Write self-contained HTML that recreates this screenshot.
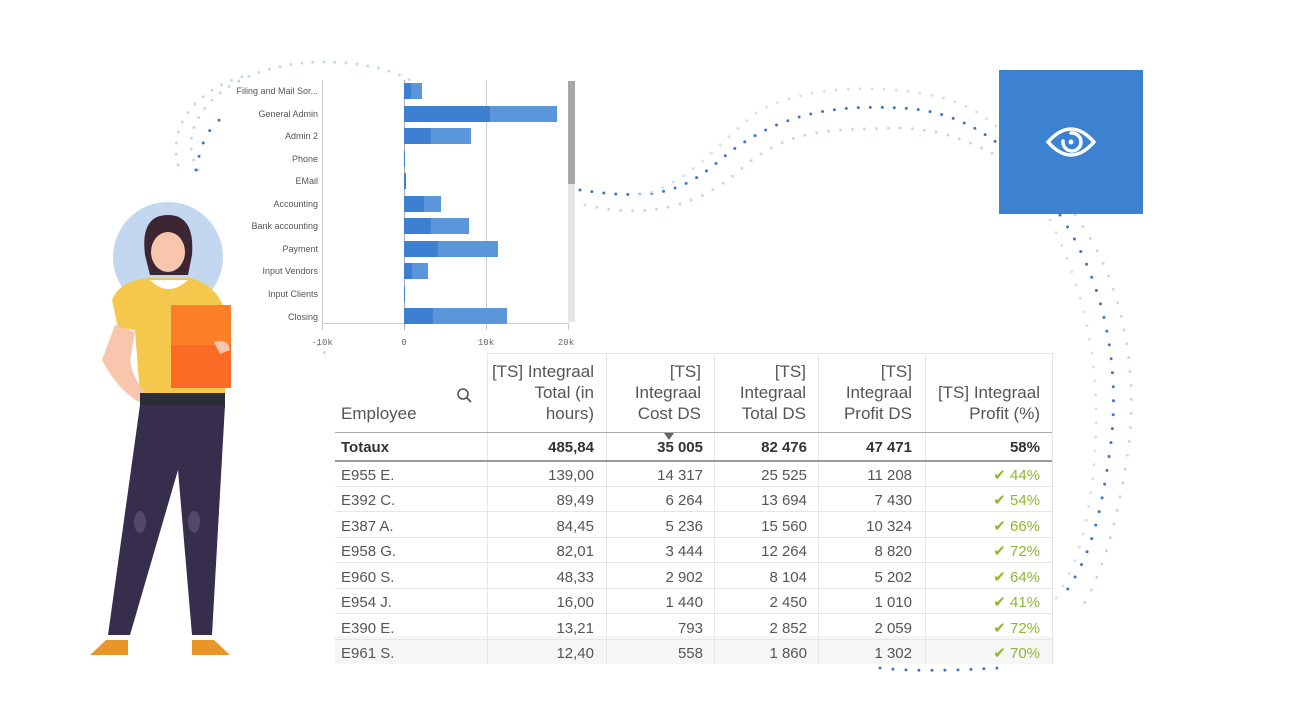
<!DOCTYPE html>
<html><head><meta charset="utf-8"><style>
html,body{margin:0;padding:0;background:#fff;width:1289px;height:724px;overflow:hidden}
svg{display:block}
.lab{font-family:"Liberation Sans Narrow","Liberation Sans",sans-serif;font-size:9px;fill:#555;text-anchor:end}
.ax{font-family:"Liberation Mono",monospace;font-size:9px;fill:#666;text-anchor:middle}
.h{font-family:"Liberation Sans Narrow","Liberation Sans",sans-serif;font-size:17px;fill:#555;text-anchor:end}
.t{font-family:"Liberation Sans Narrow","Liberation Sans",sans-serif;font-size:15px;fill:#555;text-anchor:end}
.tb{font-family:"Liberation Sans Narrow","Liberation Sans",sans-serif;font-size:15px;fill:#333;font-weight:bold;text-anchor:end}
.s{text-anchor:start}
.g{fill:#8cb92f}
</style></head><body>
<svg width="1289" height="724" viewBox="0 0 1289 724">
<g fill="none" stroke-linecap="round">
<path d="M198 170 C170 120 230 60 330 62 C380 64 400 75 410 80" stroke="#c9d7ee" stroke-width="3" stroke-dasharray="0 11"/>
<path d="M178 165 C165 110 220 80 250 75" stroke="#c9d7ee" stroke-width="3" stroke-dasharray="0 11"/>
<path d="M196 170 C200 150 205 130 222 118" stroke="#3b78cc" stroke-width="3" stroke-dasharray="0 14"/>
<path d="M580 190 C650 200 680 195 720 160 C780 110 840 105 900 108 C950 110 980 130 1000 145" stroke="#3b78cc" stroke-width="3" stroke-dasharray="0 12"/>
<path d="M585 205 C650 220 700 205 740 170 C790 125 840 130 900 128 C950 130 975 145 995 155" stroke="#c9d7ee" stroke-width="3" stroke-dasharray="0 12"/>
<path d="M640 195 C690 185 720 140 760 110 C810 85 880 85 930 95 C970 103 990 120 1000 130" stroke="#d6e0f0" stroke-width="3" stroke-dasharray="0 12"/>
<path d="M1060 215 C1110 290 1120 380 1110 450 C1100 520 1090 560 1060 600" stroke="#3b78cc" stroke-width="3" stroke-dasharray="0 14"/>
<path d="M1075 215 C1130 290 1140 390 1125 470 C1115 530 1100 580 1080 610" stroke="#c9d7ee" stroke-width="3" stroke-dasharray="0 14"/>
<path d="M1050 220 C1090 300 1100 380 1095 450 C1090 520 1080 560 1055 600" stroke="#d6e0f0" stroke-width="3" stroke-dasharray="0 14"/>
<path d="M880 668 C920 672 960 670 1000 668" stroke="#3b78cc" stroke-width="3" stroke-dasharray="0 13"/>
<path d="M318 345 L328 357" stroke="#c9d7ee" stroke-width="3" stroke-dasharray="0 10"/>
</g>
<rect x="999" y="70" width="144" height="144" fill="#3d82d0"/>
<g fill="none" stroke="#fff" stroke-width="3.5" stroke-linecap="round">
<path d="M1048 142 Q1071 116 1094 142 Q1071 168 1048 142 Z"/>
<path d="M1071 133 A9 9 0 1 1 1063 141"/>
</g>
<circle cx="1071" cy="142" r="2.5" fill="#fff"/>
<circle cx="168" cy="257" r="55" fill="#c3d8f0"/>
<path d="M145 255 Q140 215 168 215 Q195 215 192 255 L188 275 L150 275 Z" fill="#3c2633"/>
<ellipse cx="168" cy="252" rx="17" ry="20" fill="#f7c6ad"/>
<path d="M150 240 Q160 225 185 232 L185 222 Q165 212 150 225 Z" fill="#3c2633"/>
<path d="M112 300 Q120 280 150 278 L190 278 Q220 285 228 320 L225 395 L140 395 L135 330 L118 328 Z" fill="#f4c84d"/>
<path d="M150 280 Q168 298 188 280 Z" fill="#fff"/>
<path d="M115 325 L102 360 Q120 395 150 408 L152 400 Q132 380 130 360 L135 332 Z" fill="#f7c6ad"/>
<rect x="171" y="305" width="60" height="83" fill="#fb6b26"/>
<rect x="171" y="305" width="60" height="40" fill="#fc8b2c" opacity=".6"/>
<path d="M214 342 Q228 338 230 350 L220 354 Z" fill="#f7c6ad"/>
<rect x="140" y="393" width="85" height="15" fill="#2b2d3a"/>
<path d="M140 405 L225 405 L212 635 L192 635 L178 470 L130 635 L108 635 Z" fill="#372e4d"/>
<ellipse cx="140" cy="522" rx="6" ry="11" fill="#54486a"/>
<ellipse cx="194" cy="522" rx="6" ry="11" fill="#54486a"/>
<path d="M106 640 L128 640 L128 655 L90 655 Z" fill="#e8962a"/>
<path d="M192 640 L214 640 L230 655 L192 655 Z" fill="#e8962a"/>
<g stroke="#ccc" stroke-width="1">
<line x1="322.5" y1="80" x2="322.5" y2="330"/>
<line x1="322" y1="323.5" x2="568" y2="323.5"/>
<line x1="486.5" y1="80" x2="486.5" y2="330"/>
<line x1="568.5" y1="323" x2="568.5" y2="330"/>
</g>
<line x1="404.5" y1="80" x2="404.5" y2="330" stroke="#aaa"/>
<rect x="568" y="81" width="7" height="241" fill="#e6e6e6"/>
<rect x="568" y="81" width="7" height="103" fill="#a8a8a8"/>
<g>
<rect x="404" y="83" width="18" height="16" fill="#5b96db"/><rect x="404" y="83" width="7" height="16" fill="#3d7fd0"/>
<rect x="404" y="106" width="153" height="16" fill="#5b96db"/><rect x="404" y="106" width="86" height="16" fill="#3d7fd0"/>
<rect x="404" y="128" width="67" height="16" fill="#5b96db"/><rect x="404" y="128" width="27" height="16" fill="#3d7fd0"/>
<rect x="404" y="151" width="1" height="16" fill="#3d7fd0"/>
<rect x="404" y="173" width="2" height="16" fill="#3d7fd0"/>
<rect x="404" y="196" width="37" height="16" fill="#5b96db"/><rect x="404" y="196" width="20" height="16" fill="#3d7fd0"/>
<rect x="404" y="218" width="65" height="16" fill="#5b96db"/><rect x="404" y="218" width="27" height="16" fill="#3d7fd0"/>
<rect x="404" y="241" width="94" height="16" fill="#5b96db"/><rect x="404" y="241" width="34" height="16" fill="#3d7fd0"/>
<rect x="404" y="263" width="24" height="16" fill="#5b96db"/><rect x="404" y="263" width="8" height="16" fill="#3d7fd0"/>
<rect x="404" y="286" width="1" height="16" fill="#3d7fd0"/>
<rect x="404" y="308" width="103" height="16" fill="#5b96db"/><rect x="404" y="308" width="29" height="16" fill="#3d7fd0"/>
</g>
<g class="lab">
<text x="318" y="94">Filing and Mail Sor...</text>
<text x="318" y="117">General Admin</text>
<text x="318" y="139">Admin 2</text>
<text x="318" y="162">Phone</text>
<text x="318" y="184">EMail</text>
<text x="318" y="207">Accounting</text>
<text x="318" y="229">Bank accounting</text>
<text x="318" y="252">Payment</text>
<text x="318" y="274">Input Vendors</text>
<text x="318" y="297">Input Clients</text>
<text x="318" y="320">Closing</text>
</g>
<g class="ax">
<text x="322" y="345">-10k</text><text x="404" y="345">0</text><text x="486" y="345">10k</text><text x="566" y="345">20k</text>
</g>
<rect x="335" y="636" width="717" height="28" fill="#f2f2f2" opacity=".7"/>
<g stroke="#e6e6e6" stroke-width="1">
<line x1="487.5" y1="353" x2="487.5" y2="664"/>
<line x1="606.5" y1="353" x2="606.5" y2="664"/>
<line x1="714.5" y1="353" x2="714.5" y2="664"/>
<line x1="818.5" y1="353" x2="818.5" y2="664"/>
<line x1="925.5" y1="353" x2="925.5" y2="664"/>
<line x1="1052.5" y1="353" x2="1052.5" y2="664"/>
<line x1="487" y1="353.5" x2="1052" y2="353.5"/>
<line x1="335" y1="486.5" x2="1052" y2="486.5"/>
<line x1="335" y1="511.5" x2="1052" y2="511.5"/>
<line x1="335" y1="537.5" x2="1052" y2="537.5"/>
<line x1="335" y1="562.5" x2="1052" y2="562.5"/>
<line x1="335" y1="588.5" x2="1052" y2="588.5"/>
<line x1="335" y1="613.5" x2="1052" y2="613.5"/>
<line x1="335" y1="639.5" x2="1052" y2="639.5"/>
</g>
<line x1="335" y1="432.5" x2="1052" y2="432.5" stroke="#aaa"/>
<line x1="335" y1="461" x2="1052" y2="461" stroke="#999" stroke-width="2"/>
<path d="M664 433 L674 433 L669 440 Z" fill="#666"/>
<circle cx="463" cy="394" r="5" fill="none" stroke="#555" stroke-width="1.6"/>
<line x1="467" y1="398" x2="471" y2="402" stroke="#555" stroke-width="1.8"/>
<g class="h">
<text x="341" y="419" class="h s">Employee</text>
<text x="594" y="377">[TS] Integraal</text><text x="594" y="398">Total (in</text><text x="594" y="419">hours)</text>
<text x="701" y="377">[TS]</text><text x="701" y="398">Integraal</text><text x="701" y="419">Cost DS</text>
<text x="806" y="377">[TS]</text><text x="806" y="398">Integraal</text><text x="806" y="419">Total DS</text>
<text x="912" y="377">[TS]</text><text x="912" y="398">Integraal</text><text x="912" y="419">Profit DS</text>
<text x="1040" y="398">[TS] Integraal</text><text x="1040" y="419">Profit (%)</text>
</g>
<g class="tb">
<text x="341" y="452" class="tb s">Totaux</text>
<text x="594" y="452">485,84</text><text x="703" y="452">35 005</text><text x="807" y="452">82 476</text><text x="912" y="452">47 471</text><text x="1040" y="452">58%</text>
</g>
<g class="t">
<text x="341" y="480" class="t s">E955 E.</text><text x="594" y="480">139,00</text><text x="703" y="480">14 317</text><text x="807" y="480">25 525</text><text x="912" y="480">11 208</text><text x="1040" y="480" class="t g">✔ 44%</text>
<text x="341" y="505" class="t s">E392 C.</text><text x="594" y="505">89,49</text><text x="703" y="505">6 264</text><text x="807" y="505">13 694</text><text x="912" y="505">7 430</text><text x="1040" y="505" class="t g">✔ 54%</text>
<text x="341" y="531" class="t s">E387 A.</text><text x="594" y="531">84,45</text><text x="703" y="531">5 236</text><text x="807" y="531">15 560</text><text x="912" y="531">10 324</text><text x="1040" y="531" class="t g">✔ 66%</text>
<text x="341" y="556" class="t s">E958 G.</text><text x="594" y="556">82,01</text><text x="703" y="556">3 444</text><text x="807" y="556">12 264</text><text x="912" y="556">8 820</text><text x="1040" y="556" class="t g">✔ 72%</text>
<text x="341" y="582" class="t s">E960 S.</text><text x="594" y="582">48,33</text><text x="703" y="582">2 902</text><text x="807" y="582">8 104</text><text x="912" y="582">5 202</text><text x="1040" y="582" class="t g">✔ 64%</text>
<text x="341" y="607" class="t s">E954 J.</text><text x="594" y="607">16,00</text><text x="703" y="607">1 440</text><text x="807" y="607">2 450</text><text x="912" y="607">1 010</text><text x="1040" y="607" class="t g">✔ 41%</text>
<text x="341" y="633" class="t s">E390 E.</text><text x="594" y="633">13,21</text><text x="703" y="633">793</text><text x="807" y="633">2 852</text><text x="912" y="633">2 059</text><text x="1040" y="633" class="t g">✔ 72%</text>
<text x="341" y="658" class="t s">E961 S.</text><text x="594" y="658">12,40</text><text x="703" y="658">558</text><text x="807" y="658">1 860</text><text x="912" y="658">1 302</text><text x="1040" y="658" class="t g">✔ 70%</text>
</g>
</svg>
</body></html>
